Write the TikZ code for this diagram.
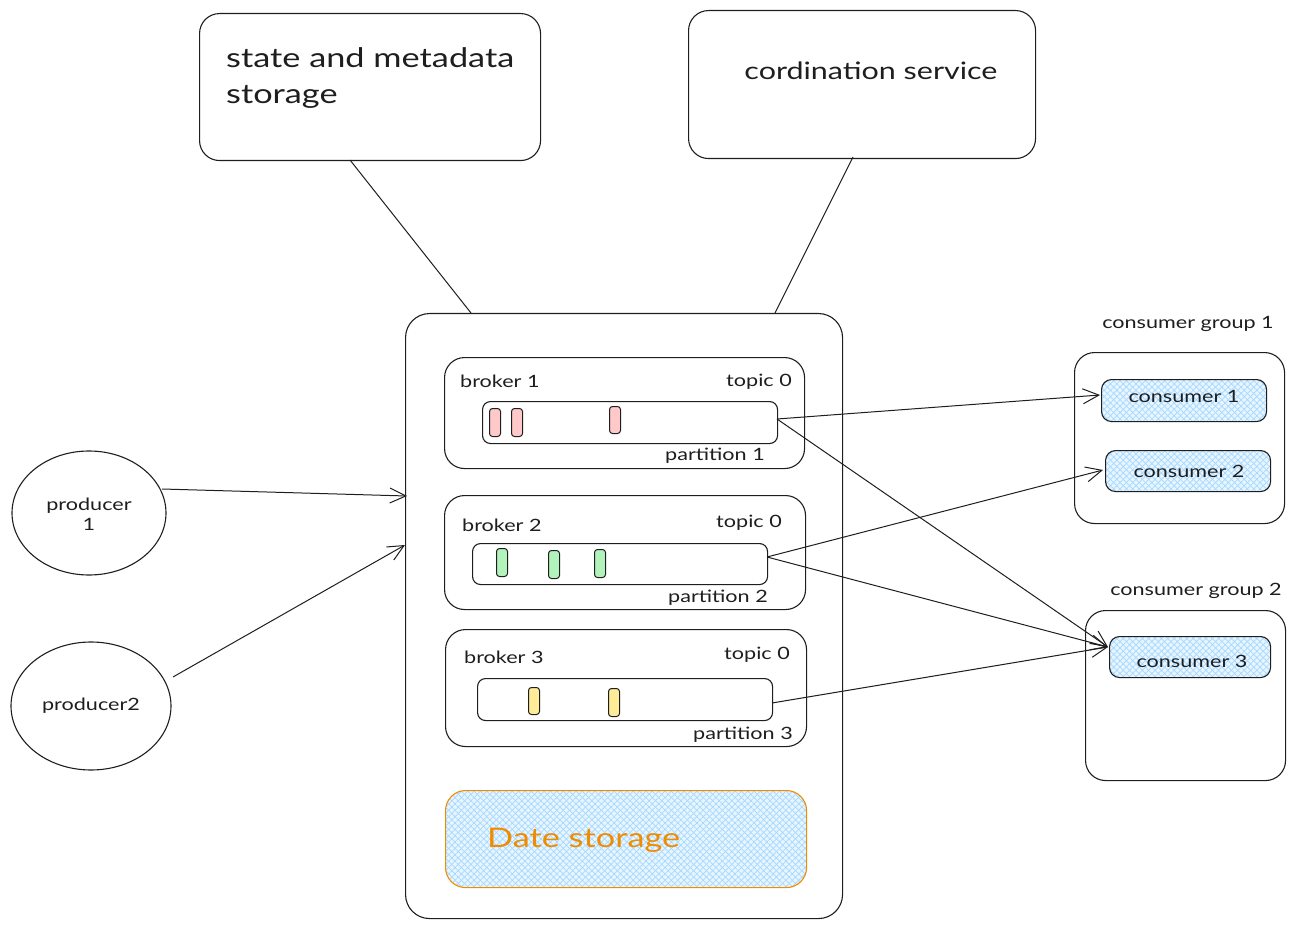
\documentclass[tikz,border=0pt]{standalone}
\usepackage{fontspec}
\setmainfont{Lato}[FakeStretch=1.27]
\usetikzlibrary{arrows.meta,patterns.meta,shapes.geometric}
\definecolor{hatchline}{HTML}{A5D8FF}
\definecolor{hatchbase}{HTML}{E7F5FF}
\definecolor{orng}{HTML}{F08C00}
\definecolor{pinkf}{HTML}{FFC9C9}
\definecolor{greenf}{HTML}{B2F2BB}
\definecolor{yellowf}{HTML}{FFEC99}
\definecolor{ink}{HTML}{1E1E1E}
\tikzset{
  box/.style={draw=ink,line width=1.1pt,rounded corners=20pt,anchor=north west,inner sep=0pt},
  sbox/.style={draw=ink,line width=1.1pt,rounded corners=10pt,anchor=north west,inner sep=0pt},
  hatch/.style={preaction={fill=hatchbase},
    preaction={pattern={Lines[angle=45,distance=4.5pt,line width=0.7pt]},pattern color=hatchline},
    preaction={pattern={Lines[angle=-45,distance=4.5pt,line width=0.7pt]},pattern color=hatchline}},
  msg/.style={draw=ink,line width=1pt,rounded corners=3pt,anchor=north west,inner sep=0pt,minimum width=11pt},
  lbl/.style={font=\fontsize{17}{20}\selectfont,text=ink,inner sep=0pt},
  big/.style={font=\fontsize{27}{36}\selectfont,text=ink,inner sep=0pt},
  conn/.style={draw=ink,line width=1pt},
  arr/.style={conn,-{Straight Barb[length=16pt,width=15pt,line width=1pt]}},
  prod/.style={draw=ink,line width=1.1pt,ellipse,inner sep=0pt},
}
\begin{document}
\begin{tikzpicture}[x=1pt,y=-1pt]
\useasboundingbox (0,0) rectangle (1294,928);
% top boxes
\node[box,minimum width=341pt,minimum height=147pt] (state) at (199,13) {};
\node[big,anchor=west,align=left] (statet) at (226,78) {state and metadata\\storage};
\node[box,minimum width=347pt,minimum height=148pt] (coord) at (688,10) {};
\node[big,font=\fontsize{24}{30}\selectfont] (coordt) at (871,71) {cordination service};
% main cluster
\node[box,rounded corners=24pt,minimum width=437pt,minimum height=605pt] (main) at (405,313) {};
\coordinate (m1) at (471,313);
\coordinate (m2) at (775,313);
\coordinate (s1) at (350,160);
\coordinate (c1) at (853,157);
\draw[conn] (s1) -- (m1);
\draw[conn] (c1) -- (m2);
% broker 1
\node[box,minimum width=360pt,minimum height=111pt] (b1) at (444,357) {};
\node[lbl,anchor=west] (b1t) at (460,381) {broker 1};
\node[lbl,anchor=east] (b1p) at (792,382) {topic 0};
\node[sbox,rounded corners=8pt,minimum width=295pt,minimum height=42pt] (p1) at (482,401) {};
\node[lbl,anchor=east] (p1t) at (765,456) {partition 1};
\node[msg,fill=pinkf,minimum height=28pt] (r1) at (489,408) {};
\node[msg,fill=pinkf,minimum height=28pt] (r2) at (511,408) {};
\node[msg,fill=pinkf,minimum height=27pt] (r3) at (609,406) {};
% broker 2
\node[box,minimum width=361pt,minimum height=114pt] (b2) at (444,495) {};
\node[lbl,anchor=west] (b2t) at (462,525) {broker 2};
\node[lbl,anchor=east] (b2p) at (782,523) {topic 0};
\node[sbox,rounded corners=8pt,minimum width=295pt,minimum height=41pt] (p2) at (472,543) {};
\node[lbl,anchor=east] (p2t) at (768,598) {partition 2};
\node[msg,fill=greenf,minimum height=28pt] (g1) at (496,548) {};
\node[msg,fill=greenf,minimum height=28pt] (g2) at (548,550) {};
\node[msg,fill=greenf,minimum height=28pt] (g3) at (594,549) {};
% broker 3
\node[box,minimum width=361pt,minimum height=117pt] (b3) at (445,629) {};
\node[lbl,anchor=west] (b3t) at (464,657) {broker 3};
\node[lbl,anchor=east] (b3p) at (790,655) {topic 0};
\node[sbox,rounded corners=8pt,minimum width=295pt,minimum height=42pt] (p3) at (477,678) {};
\node[lbl,anchor=east] (p3t) at (793,735) {partition 3};
\node[msg,fill=yellowf,minimum height=27pt] (y1) at (528,687) {};
\node[msg,fill=yellowf,minimum height=28pt] (y2) at (608,688) {};
% data storage
\node[box,draw=orng,hatch,minimum width=361pt,minimum height=97pt] (ds) at (445,790) {};
\node[big,text=orng,anchor=west] (dst) at (487,840) {Date storage};
% producers
\node[prod,minimum width=154pt,minimum height=124pt] (pr1) at (89,513) {};
\node[lbl,align=center] (pr1t) at (89,514) {producer\\1};
\node[prod,minimum width=160pt,minimum height=128pt] (pr2) at (91,706) {};
\node[lbl] (pr2t) at (91,706) {producer2};
\coordinate (pa1) at (162,489);
\coordinate (pb1) at (407,496);
\coordinate (pa2) at (173,677);
\coordinate (pb2) at (405,545);
\draw[arr] (pa1) -- (pb1);
\draw[arr] (pa2) -- (pb2);
% consumer groups
\node[lbl] (cg1t) at (1188,324) {consumer group 1};
\node[box,minimum width=210pt,minimum height=171pt] (cg1) at (1074,352) {};
\node[sbox,hatch,minimum width=165pt,minimum height=42pt] (cs1) at (1101,379) {};
\node[lbl] (cs1t) at (1184,396) {consumer 1};
\node[sbox,hatch,minimum width=165pt,minimum height=41pt] (cs2) at (1105,450) {};
\node[lbl] (cs2t) at (1189,471) {consumer 2};
\node[lbl] (cg2t) at (1196,591) {consumer group 2};
\node[box,minimum width=200pt,minimum height=170pt] (cg2) at (1085,610) {};
\node[sbox,hatch,minimum width=161pt,minimum height=41pt] (cs3) at (1109,636) {};
\node[lbl] (cs3t) at (1192,661) {consumer 3};
% partition -> consumer arrows
\coordinate (q1) at (777,419);
\coordinate (q2) at (767,557);
\coordinate (q3) at (772,703);
\coordinate (k1) at (1100,395);
\coordinate (k2) at (1103,470);
\coordinate (k3) at (1108,647);
\draw[arr] (q1) -- (k1);
\draw[arr] (q1) -- (k3);
\draw[arr] (q2) -- (k2);
\draw[arr] (q2) -- (k3);
\draw[arr] (q3) -- (k3);
\end{tikzpicture}
\end{document}
